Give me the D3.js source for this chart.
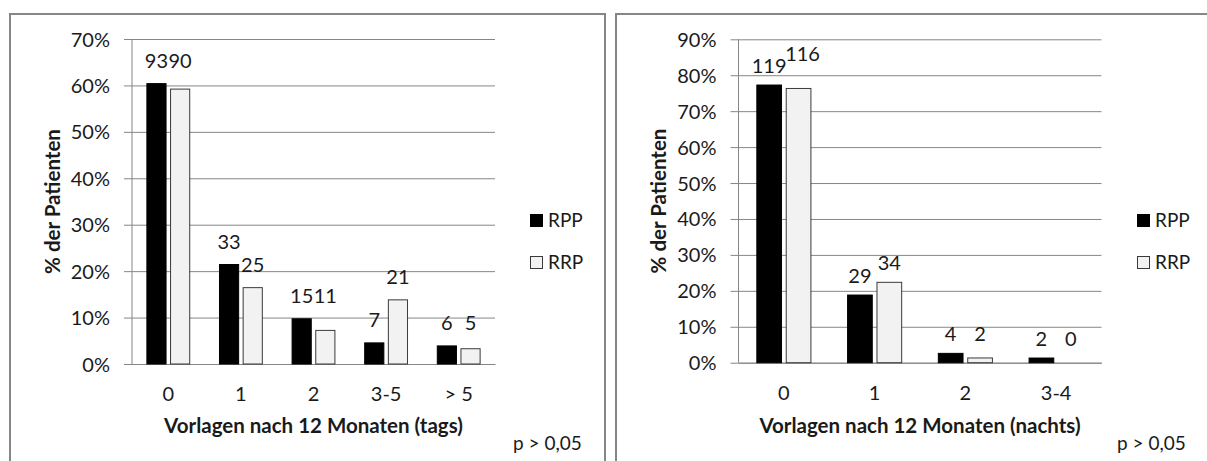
<!DOCTYPE html>
<html>
<head>
<meta charset="utf-8">
<script src="https://cdn.jsdelivr.net/npm/d3@7"></script>
<style>
  html, body { margin: 0; padding: 0; background: #fff; }
  svg { display: block; }
  text { font-family: Lato, "Open Sans", sans-serif; fill: #1a1a1a; }
</style>
</head>
<body>
<svg id="chart" width="1207" height="461"></svg>
<script>
// Vorlagenverbrauch nach 12 Monaten: Anzahl Patienten je Gruppe (RPP / RRP)
const seriesNames = ["RPP", "RRP"];

// Tagsüber
const categoriesTags = ["0", "1", "2", "3-5", "> 5"];
const rppTags = [93, 33, 15, 7, 6];
const rrpTags = [90, 25, 11, 21, 5];
const yTicksTags = [0, 0.1, 0.2, 0.3, 0.4, 0.5, 0.6, 0.7];

// Nachts
const categoriesNachts = ["0", "1", "2", "3-4"];
const rppNachts = [119, 29, 4, 2];
const rrpNachts = [116, 34, 2, 0];
const yTicksNachts = [0, 0.1, 0.2, 0.3, 0.4, 0.5, 0.6, 0.7, 0.8, 0.9];

const pText = "p > 0,05";
const yTitle = "% der Patienten";

const svg = d3.select("#chart");
const gridColor = "#868686";
const fontSize = "20px";
const titleSize = "20.5px";

function drawPanel(cfg) {
  const g = svg.append("g");

  // Rahmen des Diagrammbereichs
  g.append("rect")
    .attr("x", cfg.frame[0]).attr("y", cfg.frame[1])
    .attr("width", cfg.frame[2]).attr("height", cfg.frame[3])
    .attr("fill", "none").attr("stroke", gridColor).attr("stroke-width", 2);

  const totals = [d3.sum(cfg.rpp), d3.sum(cfg.rrp)];
  const rows = cfg.categories.map((c, i) => ({
    cat: c,
    vals: [
      { key: seriesNames[0], n: cfg.rpp[i], pct: cfg.rpp[i] / totals[0] },
      { key: seriesNames[1], n: cfg.rrp[i], pct: cfg.rrp[i] / totals[1] }
    ]
  }));

  const x = d3.scaleBand().domain(cfg.categories).range([cfg.x0, cfg.x1]).padding(0);
  const xs = d3.scaleBand().domain(seriesNames)
    .range([x.bandwidth() * cfg.outer, x.bandwidth() * (1 - cfg.outer)])
    .paddingInner(cfg.inner).paddingOuter(0);
  const y = d3.scaleLinear().domain([0, d3.max(cfg.ticks)]).range([cfg.y0, cfg.yTop]);

  // Gitterlinien und Y-Achse
  const yAxis = d3.axisLeft(y).tickValues(cfg.ticks).tickFormat(d3.format(".0%"))
    .tickSize(-(cfg.x1 - cfg.x0)).tickPadding(0);
  const ya = g.append("g").attr("transform", `translate(${cfg.x0},0)`).call(yAxis);
  ya.select(".domain").remove();
  ya.selectAll(".tick line").attr("stroke", gridColor).attr("x1", -8);
  ya.selectAll(".tick text")
    .attr("x", -22).attr("dy", "0.35em")
    .style("font-size", fontSize).style("font-family", "Lato, sans-serif").attr("fill", "#1a1a1a");
  g.append("line")
    .attr("x1", cfg.x0).attr("x2", cfg.x0).attr("y1", cfg.yTop).attr("y2", cfg.y0)
    .attr("stroke", gridColor);

  // X-Achse
  const xAxis = d3.axisBottom(x).tickSize(0).tickPadding(23);
  const xa = g.append("g").attr("transform", `translate(0,${cfg.y0})`).call(xAxis);
  xa.select(".domain").attr("stroke", gridColor);
  xa.selectAll(".tick text")
    .style("font-size", fontSize).style("font-family", "Lato, sans-serif").attr("fill", "#1a1a1a");

  // Balken
  const groups = g.append("g").selectAll("g").data(rows).join("g")
    .attr("transform", d => `translate(${x(d.cat)},0)`);
  groups.selectAll("rect").data(d => d.vals).join("rect")
    .attr("x", d => xs(d.key))
    .attr("y", d => y(d.pct))
    .attr("width", xs.bandwidth())
    .attr("height", d => cfg.y0 - y(d.pct))
    .attr("fill", d => d.key === "RPP" ? "#000" : "#f2f2f2")
    .attr("stroke", d => d.key === "RPP" ? "#000" : "#3a3a3a")
    .attr("stroke-width", 1);

  // Datenbeschriftungen (Anzahl Patienten); nahe beieinanderliegende Paare auf eine Höhe,
  // bei deutlicher Überschneidung wird die zweite Beschriftung angehoben
  groups.each(function (d) {
    const ly = d.vals.map(v => y(v.pct) - cfg.labelOffset);
    if (Math.abs(ly[0] - ly[1]) < 12.2) {
      const m = Math.min(ly[0], ly[1]);
      ly[0] = m; ly[1] = m;
    }
    const labels = d3.select(this).selectAll("text.val").data(d.vals).join("text")
      .attr("class", "val")
      .attr("x", v => xs(v.key) + xs.bandwidth() / 2)
      .attr("y", (v, i) => ly[i])
      .attr("text-anchor", "middle")
      .style("font-size", fontSize)
      .text(v => v.n);
    const nodes = labels.nodes();
    if (ly[0] === ly[1]) {
      const b0 = nodes[0].getBBox(), b1 = nodes[1].getBBox();
      if (b0.x + b0.width - b1.x > 3) {
        d3.select(nodes[1])
          .attr("y", ly[1] - 12)
          .attr("x", xs(d.vals[1].key) + xs.bandwidth() / 2 + 4);
      }
    }
  });

  // Achsentitel
  g.append("text")
    .attr("transform", `translate(${cfg.yTitleX},${(cfg.yTop + cfg.y0) / 2}) rotate(-90)`)
    .attr("text-anchor", "middle").attr("dy", "0.35em")
    .style("font-size", titleSize).style("font-weight", "bold")
    .text(yTitle);
  g.append("text")
    .attr("x", (cfg.x0 + cfg.x1) / 2).attr("y", 433)
    .attr("text-anchor", "middle")
    .style("font-size", titleSize).style("font-weight", "bold")
    .text(cfg.xTitle);

  // Legende
  const leg = g.append("g").attr("transform", `translate(${cfg.legendX},214)`);
  seriesNames.forEach((s, i) => {
    leg.append("rect")
      .attr("x", 0.5).attr("y", i * 42 + 0.5).attr("width", 12).attr("height", 12)
      .attr("fill", s === "RPP" ? "#000" : "#f2f2f2")
      .attr("stroke", s === "RPP" ? "#000" : "#3a3a3a");
    leg.append("text")
      .attr("x", 18).attr("y", i * 42 + 12.5)
      .style("font-size", "19px")
      .text(s);
  });

  // Signifikanz
  g.append("text")
    .attr("x", cfg.pX).attr("y", 450)
    .style("font-size", "19px")
    .text(pText);
}

drawPanel({
  frame: [10, 14, 595, 470],
  categories: categoriesTags, rpp: rppTags, rrp: rrpTags, ticks: yTicksTags,
  x0: 132, x1: 495, yTop: 39, y0: 364,
  outer: 0.205, inner: 0.19, labelOffset: 16,
  yTitleX: 53, xTitle: "Vorlagen nach 12 Monaten (tags)",
  legendX: 530, pX: 513
});

drawPanel({
  frame: [616, 14, 620, 470],
  categories: categoriesNachts, rpp: rppNachts, rrp: rrpNachts, ticks: yTicksNachts,
  x0: 738.5, x1: 1101.5, yTop: 39.3, y0: 362.7,
  outer: 0.202, inner: 0.16, labelOffset: 12,
  yTitleX: 659, xTitle: "Vorlagen nach 12 Monaten (nachts)",
  legendX: 1137, pX: 1117
});
</script>
</body>
</html>
